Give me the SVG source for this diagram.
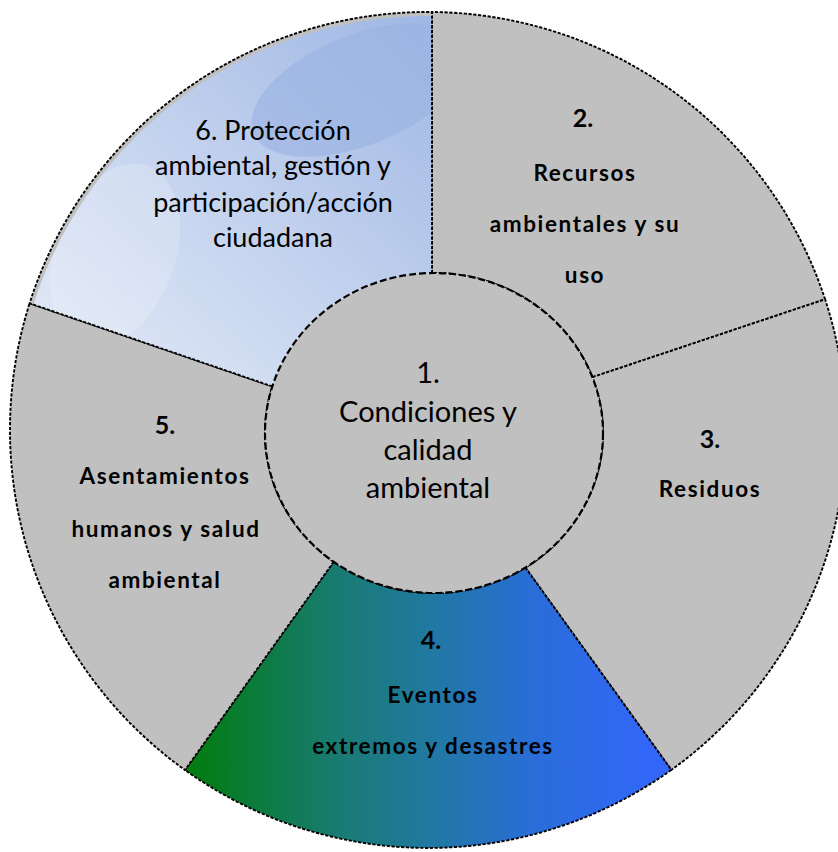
<svg xmlns="http://www.w3.org/2000/svg" width="838" height="852" viewBox="0 0 838 852">
<style>
.seg{stroke:#000;stroke-width:1.9;stroke-dasharray:3.2 1.6;stroke-linejoin:round}
.gray{fill:#c0c0c0}
.t{font-family:Lato,"Open Sans","Liberation Sans",sans-serif;fill:#000;text-anchor:middle}
.reg{font-size:27px}
.big{font-size:29px}
.b{font-size:22.5px;font-weight:bold;letter-spacing:1.6px}
.n{font-size:25px;font-weight:bold}
</style>
<defs>
<linearGradient id="g6" x1="0" y1="1" x2="1" y2="0">
<stop offset="0" stop-color="#e6ecf7"/>
<stop offset="0.5" stop-color="#c3d2ee"/>
<stop offset="1" stop-color="#9fb7e4"/>
</linearGradient>
<linearGradient id="g4" gradientUnits="userSpaceOnUse" x1="185" y1="0" x2="671" y2="0">
<stop offset="0" stop-color="#007c0c"/>
<stop offset="0.3" stop-color="#187b6e"/>
<stop offset="0.5" stop-color="#2079a0"/>
<stop offset="0.72" stop-color="#2a6dd8"/>
<stop offset="1" stop-color="#3366ff"/>
</linearGradient>
<clipPath id="c6"><path d="M272.3,386.4 L29.6,303.3 A418,418 0 0 1 432,12 L432,273 A169,160 0 0 0 272.3,386.4 Z"/></clipPath>
</defs>

<g id="seg2">
<path class="seg gray" d="M432,273 L432,12 A418,418 0 0 1 825.1,299.3 L592.4,377.2 A169,160 0 0 0 432,273 Z"/>
<text class="t n" x="583" y="127">2.</text>
<text class="t b" x="585" y="181">Recursos</text>
<text class="t b" x="585" y="232">ambientales y su</text>
<text class="t b" x="585" y="283">uso</text>
</g>

<g id="seg3">
<path class="seg gray" d="M592.4,377.2 L825.1,299.3 A418,418 0 0 1 671.3,769.9 L525.4,567.6 A169,160 0 0 0 592.4,377.2 Z"/>
<text class="t n" x="710" y="448">3.</text>
<text class="t b" x="710" y="497">Residuos</text>
</g>

<g id="seg4">
<path class="seg" fill="url(#g4)" d="M525.4,567.6 L671.3,769.9 A418,418 0 0 1 185,770 L333.7,561.8 A169,160 0 0 0 525.4,567.6 Z"/>
<text class="t n" x="431" y="649">4.</text>
<text class="t b" x="433" y="703">Eventos</text>
<text class="t b" x="433" y="754">extremos y desastres</text>
</g>

<g id="seg5">
<path class="seg gray" d="M333.7,561.8 L185,770 A418,418 0 0 1 29.6,303.3 L272.3,386.4 A169,160 0 0 0 333.7,561.8 Z"/>
<text class="t n" x="165" y="434">5.</text>
<text class="t b" x="165" y="484">Asentamientos</text>
<text class="t b" x="166" y="537">humanos y salud</text>
<text class="t b" x="165" y="588">ambiental</text>
</g>

<g id="seg6">
<path fill="url(#g6)" d="M272.3,386.4 L29.6,303.3 A418,418 0 0 1 432,12 L432,273 A169,160 0 0 0 272.3,386.4 Z"/>
<g clip-path="url(#c6)">
<ellipse cx="360" cy="90" rx="115" ry="55" transform="rotate(-22 360 90)" fill="#9ab2e2" opacity="0.6"/>
<ellipse cx="115" cy="255" rx="60" ry="95" transform="rotate(20 115 255)" fill="#ffffff" opacity="0.18"/>
<path d="M29.6,303.3 A418,418 0 0 1 432,12" fill="none" stroke="#c0c0c0" stroke-width="8"/>
</g>
<path class="seg" fill="none" d="M272.3,386.4 L29.6,303.3 A418,418 0 0 1 432,12 L432,273"/>
<text class="t reg" x="273" y="140">6. Protección</text>
<text class="t reg" x="273" y="175">ambiental, gestión y</text>
<text class="t reg" x="273" y="211.5">participación/acción</text>
<text class="t reg" x="273" y="247">ciudadana</text>
</g>

<g id="center">
<ellipse cx="434" cy="433" rx="169" ry="160" fill="#c0c0c0" stroke="#000" stroke-width="2.2" stroke-dasharray="7 3"/>
<text class="t big" x="428" y="383">1.</text>
<text class="t big" x="428" y="422">Condiciones y</text>
<text class="t big" x="428" y="460">calidad</text>
<text class="t big" x="428" y="498">ambiental</text>
</g>
</svg>
